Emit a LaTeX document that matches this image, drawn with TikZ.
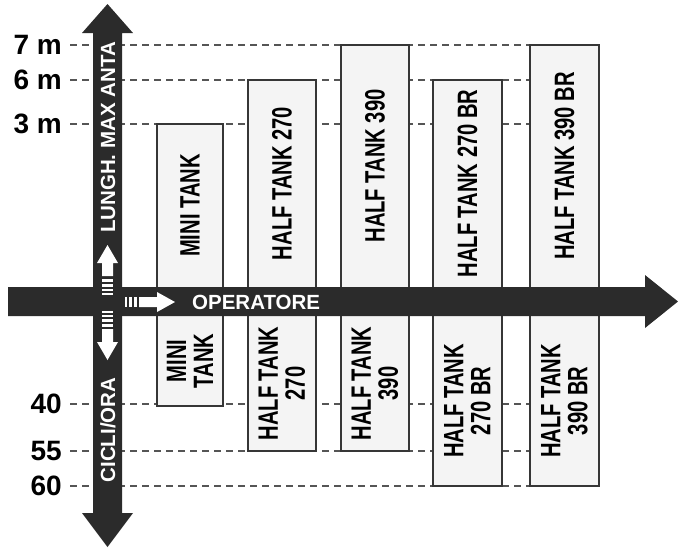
\documentclass[tikz,border=0pt]{standalone}
\usepackage{fontspec}
\setmainfont{Liberation Sans}
\newfontfamily\narrowfont[FakeStretch=0.72]{Liberation Sans}
\usepackage{xcolor}
\usepackage{tikz}
\usetikzlibrary{calc}
\definecolor{axisdark}{HTML}{2B2B2B}
\definecolor{boxbg}{HTML}{F4F4F4}
\definecolor{boxline}{HTML}{363636}
\definecolor{guide}{HTML}{555555}
\tikzset{
  axis/.style={fill=axisdark, draw=none},
  tank/.style={draw=boxline, fill=boxbg, line width=2pt},
  help/.style={draw=guide, dash pattern=on 7pt off 5pt, line width=1.3pt},
  lev/.style={anchor=east, inner sep=0pt, font=\bfseries\fontsize{28}{28}\selectfont},
  tanklab/.style={rotate=90, align=center, inner sep=0pt, font=\narrowfont\bfseries\fontsize{28}{27}\selectfont},
  axlab/.style={text=white, inner sep=0pt, font=\bfseries\fontsize{20.5}{20.5}\selectfont},
  glyph/.style={fill=white, draw=none},
}
\begin{document}
\begin{tikzpicture}[x=1pt,y=-1pt]
  \useasboundingbox (0,0) rectangle (678,549);
  % guide lines and levels
  \foreach \y/\t [count=\i] in {45/7 m,80/6 m,124/3 m,404/40,451/55,486/60}{
    \draw[help] (70,\y) -- (530,\y);
    \node[lev] (lev\i) at (62,\y) {\t};
  }
  % tanks above (height) and below (cycles)
  \foreach \a/\b/\c/\t [count=\i] in {157/223/124/MINI TANK,248/316/80/HALF TANK 270,
      341/409/45/HALF TANK 390,433/502/80/HALF TANK 270 BR,530/599/45/HALF TANK 390 BR}{
    \draw[tank] (\a,\c) rectangle (\b,292);
    \node[tanklab] (up\i) at ({(\a+\b)/2},{(\c+287)/2}) {\t};
  }
  \foreach \a/\b/\c/\t [count=\i] in {157/223/406/{MINI\\TANK},248/316/451/{HALF TANK\\270},
      341/409/451/{HALF TANK\\390},433/502/486/{HALF TANK\\270 BR},530/599/486/{HALF TANK\\390 BR}}{
    \draw[tank] (\a,311) rectangle (\b,\c);
    \node[tanklab] (low\i) at ({(\a+\b)/2},{(\c+316)/2}) {\t};
  }
  % axes
  \fill[axis] (93,33) -- (82,33) -- (107.5,4) -- (133,33) -- (122,33) -- (122,513)
    -- (133,513) -- (107.5,547) -- (82,513) -- (93,513) -- cycle;
  \fill[axis] (8,287) -- (645,287) -- (645,275) -- (678,301.5) -- (645,328)
    -- (645,316) -- (8,316) -- cycle;
  \node[axlab, rotate=90] (height) at (108,137.5) {LUNGH. MAX ANTA};
  \node[axlab, rotate=90] (cycles) at (108,430) {CICLI/ORA};
  \node[axlab, anchor=west] (operator) at (192,302) {OPERATORE};
  % small white arrows at the crossing
  \fill[glyph] (102,276) -- (102,263) -- (97,263) -- (107.5,245) -- (118,263)
    -- (113,263) -- (113,276) -- cycle;
  \fill[glyph] (102,329) -- (102,342) -- (97,342) -- (107.5,360) -- (118,342)
    -- (113,342) -- (113,329) -- cycle;
  \fill[glyph] (139,297) -- (157,297) -- (157,292) -- (175,302) -- (157,312)
    -- (157,307) -- (139,307) -- cycle;
  \foreach \p/\q in {279/282,284/287,289/291,293/295,311/313,315/317,319/322,324/327}
    \fill[glyph] (102,\p) rectangle (113,\q);
  \foreach \p/\q in {125/127,129/132,134/137}
    \fill[glyph] (\p,297) rectangle (\q,307);
\end{tikzpicture}
\end{document}
